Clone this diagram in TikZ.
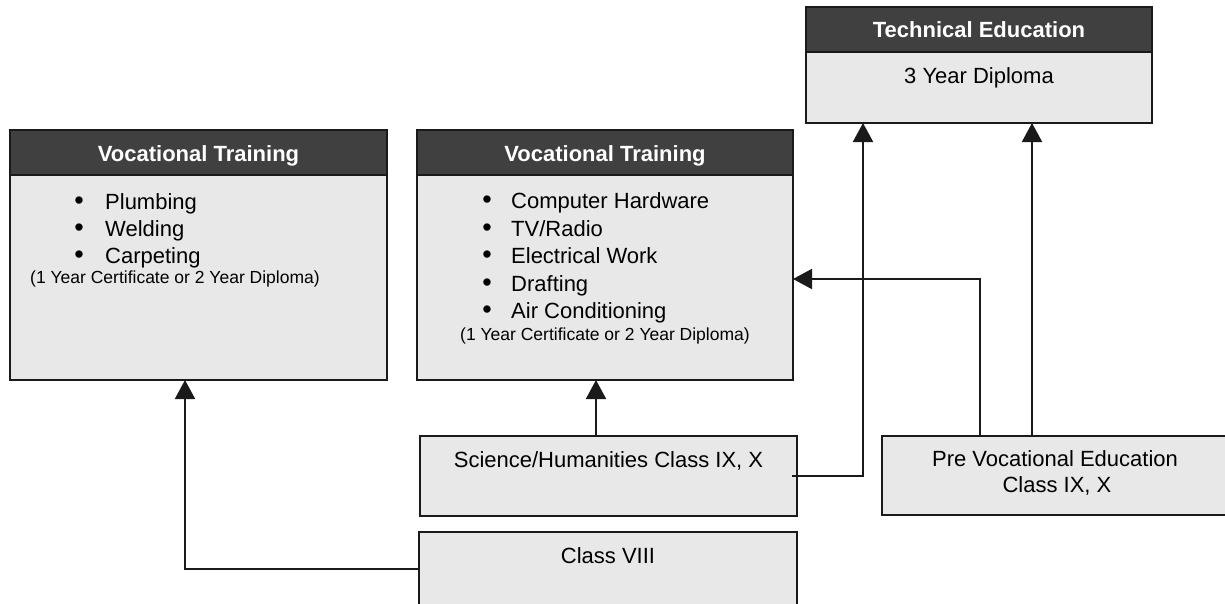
\documentclass[tikz,border=0pt]{standalone}
\usepackage{fontspec}
\setmainfont{Liberation Sans}
\usetikzlibrary{arrows.meta}
\definecolor{hdr}{HTML}{404040}
\definecolor{bodyg}{HTML}{E8E8E8}
\definecolor{ink}{HTML}{1A1A1A}
\tikzset{
  box/.style={draw=ink, line width=1.8pt, fill=bodyg, inner sep=0pt, outer sep=0pt},
  hbox/.style={draw=ink, line width=1.8pt, fill=hdr, inner sep=0pt, outer sep=0pt},
  big/.style={font=\fontsize{22}{26}\selectfont, inner sep=0pt, anchor=base},
  bul/.style={font=\fontsize{27}{30}\selectfont, inner sep=0pt, anchor=base},
  bigw/.style={font=\fontsize{22}{26}\selectfont, inner sep=0pt, anchor=base west},
  hdrtxt/.style={font=\fontsize{22}{26}\selectfont\bfseries, text=white, inner sep=0pt, anchor=base},
  small/.style={font=\fontsize{17.5}{20}\selectfont, inner sep=0pt},
  arr/.style={draw=ink, line width=2pt, -{Triangle[width=20pt,length=19pt]}}
}
\begin{document}
\begin{tikzpicture}[x=1pt,y=-1pt]
\useasboundingbox (0,0) rectangle (1225,603);
% Technical Education
\node[hbox, minimum width=346pt, minimum height=45pt] (techh) at (979,29.5) {};
\node[box, minimum width=346pt, minimum height=71pt] (tech) at (979,87.5) {};
\node[hdrtxt] (techt) at (979,37) {Technical Education};
\node[big] (techb) at (979,83) {3 Year Diploma};
% Left Vocational Training
\node[hbox, minimum width=377pt, minimum height=45pt] (lvth) at (198.5,152.5) {};
\node[box, minimum width=377pt, minimum height=205pt] (lvt) at (198.5,277.5) {};
\node[hdrtxt] (lvtt) at (198.5,161) {Vocational Training};
\node[bul] (lb1) at (79,209) {•};
\node[bigw] (lt1) at (105,209) {Plumbing};
\node[bul] (lb2) at (79,236) {•};
\node[bigw] (lt2) at (105,236) {Welding};
\node[bul] (lb3) at (79,263) {•};
\node[bigw] (lt3) at (105,263) {Carpeting};
\node[small, anchor=base west] (ls) at (30,283) {(1 Year Certificate or 2 Year Diploma)};
% Middle Vocational Training
\node[hbox, minimum width=376pt, minimum height=45pt] (mvth) at (605,152.5) {};
\node[box, minimum width=376pt, minimum height=205pt] (mvt) at (605,277.5) {};
\node[hdrtxt] (mvtt) at (605,161) {Vocational Training};
\node[bul] (mb1) at (487,208) {•};
\node[bigw] (mt1) at (511,208) {Computer Hardware};
\node[bul] (mb2) at (487,236) {•};
\node[bigw] (mt2) at (511,236) {TV/Radio};
\node[bul] (mb3) at (487,263) {•};
\node[bigw] (mt3) at (511,263) {Electrical Work};
\node[bul] (mb4) at (487,291) {•};
\node[bigw] (mt4) at (511,291) {Drafting};
\node[bul] (mb5) at (487,318) {•};
\node[bigw] (mt5) at (511,318) {Air Conditioning};
\node[small, anchor=base] (ms) at (605,340) {(1 Year Certificate or 2 Year Diploma)};
% Science / Humanities
\node[box, minimum width=377pt, minimum height=80pt] (sci) at (608.5,476) {};
\node[big] (scit) at (608.5,467) {Science/Humanities Class IX, X};
% Class VIII
\node[box, minimum width=378pt, minimum height=80pt] (c8) at (608,572) {};
\node[big] (c8t) at (608,563) {Class VIII};
% Pre Vocational
\node[box, minimum width=352pt, minimum height=79pt] (pre) at (1058,475.5) {};
\node[big] (pret1) at (1055,466) {Pre Vocational Education};
\node[big] (pret2) at (1057,492) {Class IX, X};
% connectors
\coordinate (k1) at (185,569);
\draw[arr] (c8.west |- k1) -- (k1) -- (lvt.south -| k1);
\coordinate (k2) at (596,0);
\draw[arr] (sci.north -| k2) -- (mvt.south -| k2);
\coordinate (k3) at (863,476);
\draw[arr] ([xshift=-5pt]sci.east |- k3) -- (k3) -- (tech.south -| k3);
\coordinate (k4) at (980,279);
\draw[arr] (pre.north -| k4) -- (k4) -- (mvt.east |- k4);
\coordinate (k5) at (1032,0);
\draw[arr] (pre.north -| k5) -- (tech.south -| k5);
\end{tikzpicture}
\end{document}
